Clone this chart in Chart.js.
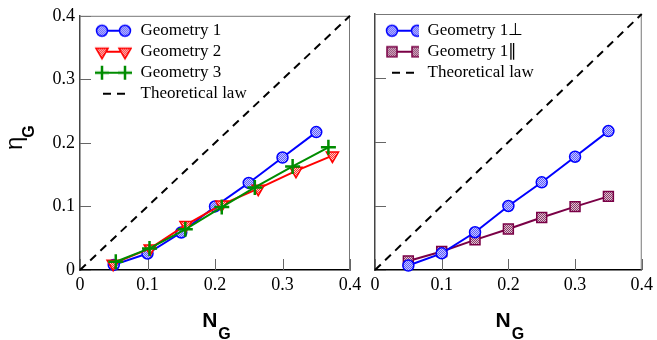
<!DOCTYPE html>
<html>
<head>
<meta charset="utf-8">
<script src="https://cdn.jsdelivr.net/npm/chart.js@4.4.0/dist/chart.umd.min.js"></script>
<style>
  html, body { margin: 0; padding: 0; background: #fff; }
  #wrap { position: relative; width: 657px; height: 340px; }
  #wrap canvas { position: absolute; left: 0; top: 0; }
</style>
</head>
<body>
<div id="wrap">
  <canvas id="leftChart" width="657" height="340"></canvas>
  <canvas id="rightChart" width="657" height="340"></canvas>
</div>
<script>
const SERIF = "'Liberation Serif', 'Times New Roman', serif";
const SANS = "'Liberation Sans', Arial, sans-serif";

// axis ticks (same on both panels)
const tickValues = [0, 0.1, 0.2, 0.3, 0.4];
const tickLabels = ["0", "0.1", "0.2", "0.3", "0.4"];

// left panel
const geom1X = [0.05, 0.10, 0.15, 0.20, 0.25, 0.30, 0.35];
const geom1Y = [0.008, 0.026, 0.059, 0.100, 0.137, 0.177, 0.217];
const geom2X = [0.049, 0.104, 0.157, 0.210, 0.264, 0.320, 0.374];
const geom2Y = [0.010, 0.034, 0.071, 0.103, 0.128, 0.156, 0.180];
const geom3X = [0.053, 0.103, 0.156, 0.210, 0.259, 0.315, 0.368];
const geom3Y = [0.013, 0.034, 0.064, 0.099, 0.130, 0.163, 0.193];

// right panel
const perpX = [0.05, 0.10, 0.15, 0.20, 0.25, 0.30, 0.35];
const perpY = [0.007, 0.026, 0.059, 0.100, 0.137, 0.177, 0.217];
const paraX = [0.05, 0.10, 0.15, 0.20, 0.25, 0.30, 0.35];
const paraY = [0.014, 0.029, 0.047, 0.064, 0.082, 0.099, 0.115];

// theoretical law eta = N
const lawX = [0, 0.4];
const lawY = [0, 0.4];

const pts = (xs, ys) => xs.map((x, i) => ({ x, y: ys[i] }));

function dither(a, b) {
  const c = document.createElement("canvas");
  c.width = 2;
  c.height = 2;
  const g = c.getContext("2d");
  g.fillStyle = b;
  g.fillRect(0, 0, 2, 2);
  g.fillStyle = a;
  g.fillRect(0, 0, 1, 1);
  g.fillRect(1, 1, 1, 1);
  return g.createPattern(c, "repeat");
}

const BLUE = "#0000ff";
const RED = "#ff0000";
const GREEN = "#008c00";
const PURPLE = "#7a0046";
const blueFill = dither("#5a5aff", "#c8c8ff");
const redFill = dither("#ff3030", "#ffc8c8");
const purpleFill = dither("#8a3a68", "#e0c4d4");

// small legend samples: line with a marker at both ends
function sample(w, x1, x2, marker, color, fill, dashed) {
  const c = document.createElement("canvas");
  c.width = w;
  c.height = 18;
  const g = c.getContext("2d");
  const y = 9;
  g.strokeStyle = color;
  g.lineWidth = 2;
  if (dashed) g.setLineDash([8, 6]);
  g.beginPath();
  g.moveTo(x1, y);
  g.lineTo(x2, y);
  g.stroke();
  g.setLineDash([]);
  [x1, x2].forEach((x) => {
    g.beginPath();
    if (marker === "circle") {
      g.arc(x, y, 5.5, 0, Math.PI * 2);
    } else if (marker === "triangle") {
      g.moveTo(x - 6.1, y - 3.5);
      g.lineTo(x + 6.1, y - 3.5);
      g.lineTo(x, y + 7);
      g.closePath();
    } else if (marker === "rect") {
      g.rect(x - 5, y - 5, 10, 10);
    } else if (marker === "cross") {
      g.lineWidth = 2.5;
      g.moveTo(x - 7, y);
      g.lineTo(x + 7, y);
      g.moveTo(x, y - 7);
      g.lineTo(x, y + 7);
      g.stroke();
      return;
    } else {
      return;
    }
    g.fillStyle = fill;
    g.fill();
    g.lineWidth = 1.5;
    g.stroke();
  });
  return c;
}

const frame = {
  id: "frame",
  beforeDatasetsDraw(chart) {
    const { ctx, chartArea: a, scales } = chart;
    ctx.save();
    ctx.strokeStyle = "#666";
    ctx.lineWidth = 1;
    ctx.beginPath();
    scales.x.ticks.forEach((t) => {
      const px = Math.round(scales.x.getPixelForValue(t.value)) + 0.5;
      ctx.moveTo(px, a.bottom);
      ctx.lineTo(px, a.bottom - 11);
    });
    scales.y.ticks.forEach((t) => {
      const py = Math.round(scales.y.getPixelForValue(t.value)) + 0.5;
      ctx.moveTo(a.left, py);
      ctx.lineTo(a.left + 11, py);
    });
    ctx.stroke();
    ctx.strokeStyle = "#777";
    ctx.beginPath();
    ctx.moveTo(a.left, a.top + 0.5);
    ctx.lineTo(a.right - 0.5, a.top + 0.5);
    ctx.lineTo(a.right - 0.5, a.bottom);
    ctx.stroke();
    ctx.restore();
  },
};

const axisTitles = {
  id: "axisTitles",
  afterDraw(chart, args, opts) {
    const { ctx, chartArea: a } = chart;
    ctx.save();
    ctx.fillStyle = "#000";
    ctx.textAlign = "left";
    ctx.textBaseline = "alphabetic";
    ctx.font = `bold 21px ${SANS}`;
    const wN = ctx.measureText("N").width;
    ctx.font = `bold 16px ${SANS}`;
    const wG = ctx.measureText("G").width;
    const x0 = (a.left + a.right) / 2 + 1 - (wN + wG) / 2;
    ctx.font = `bold 21px ${SANS}`;
    ctx.fillText("N", x0, 327);
    ctx.font = `bold 16px ${SANS}`;
    ctx.fillText("G", x0 + wN + 1, 339);
    if (opts.yTitle) {
      ctx.translate(22, 150);
      ctx.rotate(-Math.PI / 2);
      ctx.font = `24px ${SANS}`;
      ctx.fillText("η", 0, 0);
      const wE = ctx.measureText("η").width;
      ctx.font = `bold 16px ${SANS}`;
      ctx.fillText("G", wE - 1, 12);
    }
    ctx.restore();
  },
};

function scaleOpts(showLabels, fitSize, isX) {
  return {
    type: "linear",
    min: 0,
    max: 0.4,
    afterBuildTicks: (s) => {
      s.ticks = tickValues.map((v) => ({ value: v }));
    },
    ticks: {
      display: showLabels,
      callback: (v, i) => tickLabels[i],
      color: "#000",
      font: { family: SERIF, size: 18 },
      padding: isX ? 4 : 5,
      maxRotation: 0,
      autoSkip: false,
    },
    grid: { display: false, drawTicks: false },
    border: { color: isX ? "#000" : "#444", width: 1.5 },
    afterFit: (s) => {
      if (isX) s.height = fitSize;
      else s.width = fitSize;
    },
  };
}

function legendOpts(boxW) {
  return {
    position: "chartArea",
    align: "start",
    // empty title only pushes the entries down into the plot box
    title: { display: true, text: " ", font: { size: 1 }, padding: { top: 17, bottom: 0 } },
    labels: {
      usePointStyle: true,
      pointStyleWidth: boxW,
      padding: 4,
      color: "#000",
      font: { family: SERIF, size: 17 },
      generateLabels: (chart) =>
        chart.data.datasets.map((ds, i) => ({
          text: ds.label,
          pointStyle: ds.legendSample,
          datasetIndex: i,
          hidden: false,
          lineWidth: 0,
          fillStyle: "rgba(0,0,0,0)",
          strokeStyle: "rgba(0,0,0,0)",
          fontColor: "#000",
        })),
    },
  };
}

const lawStyle = {
  borderColor: "#000",
  borderWidth: 2,
  borderDash: [8, 6],
  pointRadius: 0,
  fill: false,
};

new Chart(document.getElementById("leftChart"), {
  type: "line",
  data: {
    datasets: [
      {
        label: "Geometry 1",
        data: pts(geom1X, geom1Y),
        borderColor: BLUE,
        borderWidth: 2,
        pointStyle: "circle",
        pointRadius: 5.5,
        pointBorderWidth: 1.5,
        pointBackgroundColor: blueFill,
        pointBorderColor: BLUE,
        order: 3,
        legendSample: sample(48, 18, 41, "circle", BLUE, blueFill),
      },
      {
        label: "Geometry 2",
        data: pts(geom2X, geom2Y),
        borderColor: RED,
        borderWidth: 2,
        pointStyle: "triangle",
        pointRotation: 180,
        pointRadius: 7,
        pointBorderWidth: 1.5,
        pointBackgroundColor: redFill,
        pointBorderColor: RED,
        order: 2,
        legendSample: sample(48, 18, 41, "triangle", RED, redFill),
      },
      {
        label: "Geometry 3",
        data: pts(geom3X, geom3Y),
        borderColor: GREEN,
        borderWidth: 2,
        pointStyle: "cross",
        pointRadius: 7.5,
        pointBorderWidth: 2.5,
        pointBorderColor: GREEN,
        order: 1,
        legendSample: sample(48, 18, 41, "cross", GREEN, GREEN),
      },
      {
        label: "Theoretical law",
        data: pts(lawX, lawY),
        ...lawStyle,
        order: 4,
        legendSample: sample(48, 19, 44, "none", "#000", "#000", true),
      },
    ],
  },
  options: {
    responsive: false,
    animation: false,
    devicePixelRatio: 1,
    clip: false,
    layout: { padding: { left: 0, top: 14, right: 307, bottom: 0 } },
    scales: {
      x: scaleOpts(true, 70, true),
      y: scaleOpts(true, 80, false),
    },
    plugins: {
      legend: legendOpts(48),
      tooltip: { enabled: false },
      axisTitles: { yTitle: true },
    },
  },
  plugins: [frame, axisTitles],
});

new Chart(document.getElementById("rightChart"), {
  type: "line",
  data: {
    datasets: [
      {
        label: "Geometry 1\u22a5",
        data: pts(perpX, perpY),
        borderColor: BLUE,
        borderWidth: 2,
        pointStyle: "circle",
        pointRadius: 5.5,
        pointBorderWidth: 1.5,
        pointBackgroundColor: blueFill,
        pointBorderColor: BLUE,
        order: 1,
        legendSample: sample(40, 13, 38, "circle", BLUE, blueFill),
      },
      {
        label: "Geometry 1\u2225",
        data: pts(paraX, paraY),
        borderColor: PURPLE,
        borderWidth: 2,
        pointStyle: "rect",
        pointRadius: 7,
        pointBorderWidth: 1.5,
        pointBackgroundColor: purpleFill,
        pointBorderColor: PURPLE,
        order: 2,
        legendSample: sample(40, 13, 38, "rect", PURPLE, purpleFill),
      },
      {
        label: "Theoretical law",
        data: pts(lawX, lawY),
        ...lawStyle,
        order: 4,
        legendSample: sample(40, 13, 38, "none", "#000", "#000", true),
      },
    ],
  },
  options: {
    responsive: false,
    animation: false,
    devicePixelRatio: 1,
    clip: false,
    layout: { padding: { left: 0, top: 14, right: 12, bottom: 0 } },
    scales: {
      x: scaleOpts(true, 70, true),
      y: scaleOpts(false, 375, false),
    },
    plugins: {
      legend: legendOpts(40),
      tooltip: { enabled: false },
      axisTitles: { yTitle: false },
    },
  },
  plugins: [frame, axisTitles],
});
</script>
</body>
</html>
